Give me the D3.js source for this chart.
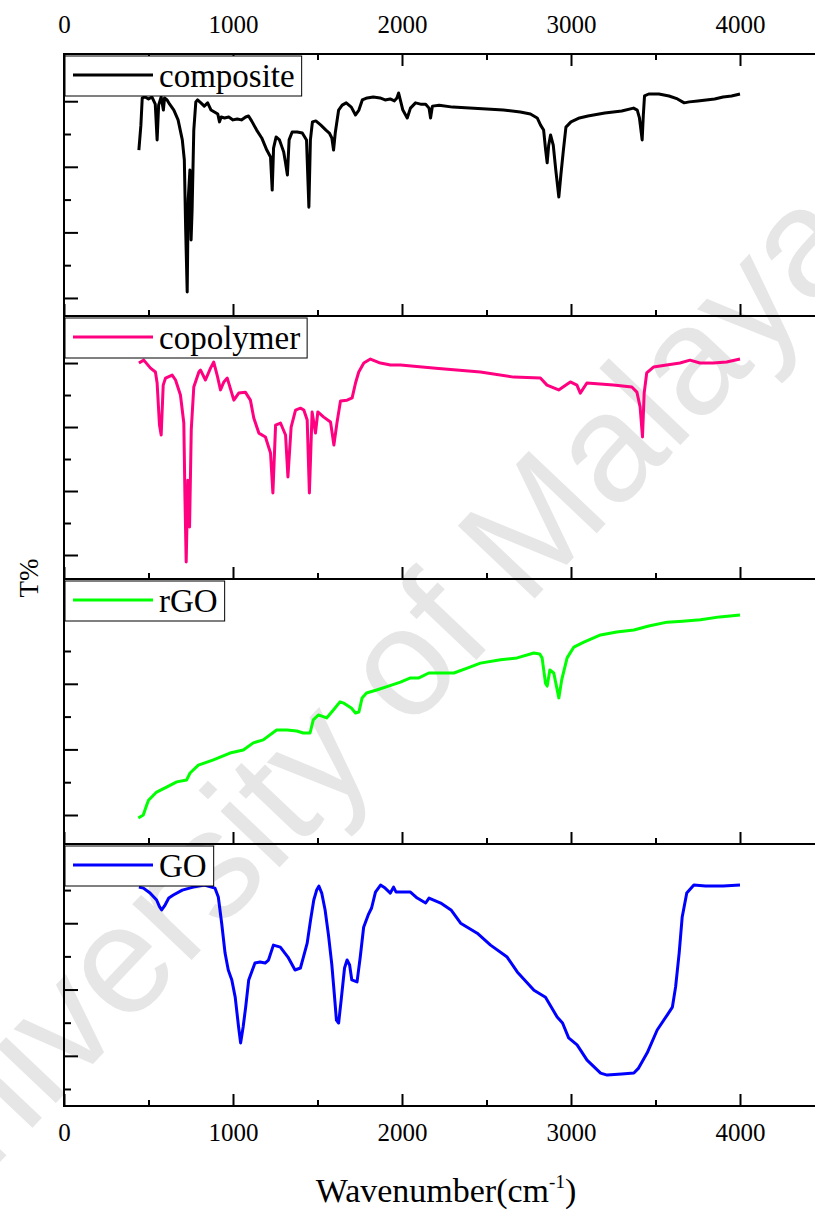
<!DOCTYPE html>
<html>
<head>
<meta charset="utf-8">
<script src="https://cdn.jsdelivr.net/npm/d3@7"></script>
<style>
  html, body { margin: 0; padding: 0; background: #ffffff; }
  svg { display: block; }
</style>
</head>
<body>
<div id="chart"></div>
<script>
// FTIR spectra, stacked panels: wavenumber (cm-1) vs transmittance (T%, arbitrary offset per panel)
const seriesNames = ["composite", "copolymer", "rGO", "GO"];
const seriesColors = ["#000000", "#ff0080", "#00ff00", "#0000ff"];
const xTickLabels = [0, 1000, 2000, 3000, 4000];
const xMinorTicks = [500, 1500, 2500, 3500, 4500];

// [wavenumber, T%]
const compositeSpectrum = [
  [443,55.1],[455,62.7],[463,71.0],[480,71.3],[500,70.7],[520,71.3],[540,69.1],[551,58.2],[560,68.8],[575,71.3],
  [588,67.3],[595,71.0],[610,70.4],[625,69.1],[650,67.3],[675,64.3],[700,58.2],[712,52.1],[720,30.7],[729,11.8],
  [735,39.9],[745,49.0],[752,27.7],[758,36.8],[768,61.2],[780,69.8],[790,70.4],[810,69.5],[830,68.5],[850,69.5],
  [870,67.3],[890,66.7],[910,66.1],[920,63.7],[930,65.2],[950,64.9],[975,65.2],[1000,64.3],[1025,64.6],[1050,64.3],
  [1075,65.2],[1092,65.5],[1110,64.0],[1140,61.2],[1170,58.8],[1200,55.1],[1222,53.0],[1232,42.9],[1240,55.7],
  [1255,59.1],[1275,58.2],[1290,56.0],[1300,54.5],[1310,51.5],[1322,47.5],[1332,58.2],[1350,60.6],[1380,60.6],
  [1410,60.3],[1435,58.2],[1449,37.7],[1458,58.2],[1470,63.7],[1490,64.0],[1520,62.7],[1550,61.2],[1570,60.3],
  [1585,58.8],[1595,55.1],[1605,60.3],[1625,67.3],[1646,68.8],[1670,69.5],[1700,68.2],[1725,65.8],[1745,67.3],
  [1765,70.4],[1794,71.0],[1830,71.3],[1870,71.0],[1900,70.4],[1930,70.7],[1955,70.1],[1970,71.0],[1980,72.5],
  [1990,70.4],[2005,67.3],[2031,64.9],[2050,67.9],[2080,69.5],[2110,69.1],[2140,69.1],[2160,67.9],[2169,64.9],
  [2180,68.5],[2220,68.8],[2300,68.2],[2400,67.9],[2500,67.6],[2600,67.3],[2700,66.7],[2760,66.1],[2800,64.9],
  [2820,62.7],[2838,61.2],[2850,55.1],[2859,51.2],[2868,56.6],[2879,59.7],[2895,56.6],[2910,49.0],[2928,40.8],
  [2940,47.5],[2955,55.1],[2970,62.1],[3000,63.7],[3050,64.9],[3100,65.5],[3200,66.4],[3300,67.0],[3370,67.9],
  [3392,67.3],[3405,64.9],[3421,58.2],[3428,65.8],[3435,71.6],[3460,72.2],[3520,72.2],[3580,71.6],[3630,70.7],
  [3670,69.5],[3700,69.8],[3750,70.1],[3800,70.4],[3850,70.7],[3900,71.3],[3950,71.6],[4000,72.2]
];

const copolymerSpectrum = [
  [443,70.0],[472,70.9],[512,68.4],[541,67.2],[551,63.75],[565,50.6],[575,47.5],[587,63.1],[601,65.3],[640,66.25],
  [660,64.7],[689,60.0],[709,51.25],[716,27.2],[723,7.8],[733,33.4],[743,18.75],[753,49.1],[768,62.5],[798,67.2],
  [808,67.8],[837,64.7],[867,68.4],[886,70.3],[906,66.25],[926,61.6],[946,64.1],[966,65.3],[1005,58.4],[1034,60.6],
  [1073,60.9],[1103,58.4],[1123,52.8],[1153,48.1],[1192,46.9],[1222,41.9],[1236,29.4],[1252,50.6],[1281,51.25],
  [1311,47.5],[1325,34.4],[1344,50.0],[1370,55.3],[1399,55.9],[1419,55.3],[1439,52.2],[1452,29.4],[1468,54.7],
  [1488,48.1],[1502,54.7],[1537,53.1],[1577,51.6],[1597,44.4],[1616,51.6],[1636,58.1],[1675,58.4],[1705,59.1],
  [1725,63.75],[1744,67.2],[1774,70.0],[1813,71.25],[1872,70.0],[1932,69.4],[1991,69.4],[2200,68.4],[2464,67.2],
  [2661,65.6],[2819,65.3],[2858,63.1],[2927,61.6],[2996,64.1],[3035,63.1],[3055,60.6],[3094,63.75],[3251,63.1],
  [3360,62.5],[3390,60.9],[3409,56.25],[3423,46.9],[3433,60.6],[3448,66.9],[3488,68.75],[3566,69.4],[3645,70.0],
  [3704,70.9],[3763,70.0],[3842,70.0],[3921,70.3],[4000,71.25]
];

const rGOSpectrum = [
  [440,9.1],[469,10.0],[489,13.0],[500,14.5],[519,15.5],[548,17.0],[607,18.5],[667,20.1],[726,20.7],[746,22.8],
  [795,25.2],[884,26.8],[982,28.9],[1061,29.8],[1120,32.0],[1179,32.9],[1258,35.9],[1320,35.9],[1377,35.6],
  [1416,35.0],[1456,35.0],[1475,39.0],[1505,40.5],[1554,39.6],[1594,42.0],[1633,44.5],[1656,44.1],[1700,42.6],
  [1725,41.1],[1745,41.4],[1764,45.7],[1790,47.2],[1850,48.1],[1920,49.3],[1991,50.5],[2050,51.8],[2100,51.8],
  [2159,53.3],[2307,53.3],[2386,54.8],[2464,56.3],[2583,57.3],[2681,57.9],[2780,59.4],[2815,59.1],[2829,57.9],
  [2849,50.2],[2859,49.3],[2875,54.2],[2898,53.3],[2928,45.7],[2945,51.2],[2977,57.9],[3017,61.2],[3076,62.7],
  [3175,64.9],[3270,65.8],[3372,66.4],[3460,67.6],[3569,68.8],[3660,69.1],[3766,69.5],[3880,70.4],[4000,71.0]
];

const GOSpectrum = [
  [443,70.9],[470,70.6],[509,69.1],[548,67.0],[565,65.0],[578,64.0],[595,65.2],[620,67.6],[647,68.5],[700,70.0],
  [765,70.9],[830,71.5],[893,70.6],[913,67.9],[933,60.0],[953,51.0],[972,45.9],[993,42.9],[1013,37.7],[1033,28.7],
  [1045,23.9],[1060,28.7],[1075,34.7],[1093,42.9],[1130,48.0],[1160,48.3],[1190,48.0],[1210,48.9],[1239,53.4],
  [1280,52.8],[1325,49.8],[1367,45.9],[1399,46.5],[1415,49.5],[1439,54.0],[1459,61.0],[1478,67.0],[1495,70.0],
  [1508,71.2],[1525,69.1],[1545,64.0],[1565,56.4],[1585,47.4],[1600,38.3],[1612,30.8],[1625,29.9],[1640,36.8],
  [1660,46.5],[1675,48.9],[1690,47.4],[1703,42.9],[1734,42.3],[1753,49.8],[1773,58.8],[1800,62.5],[1820,64.6],
  [1843,69.4],[1873,71.5],[1900,70.6],[1931,69.1],[1950,70.9],[1965,69.4],[2050,69.4],[2090,67.6],[2140,66.1],
  [2160,67.6],[2229,66.1],[2290,64.0],[2347,60.0],[2445,57.0],[2524,53.4],[2622,49.8],[2682,45.3],[2781,39.8],
  [2849,37.7],[2918,31.7],[2950,29.9],[2986,25.4],[3036,23.3],[3095,18.7],[3175,14.8],[3214,14.2],[3300,14.5],
  [3372,14.8],[3400,16.3],[3451,20.9],[3510,27.8],[3569,32.3],[3600,34.7],[3619,40.8],[3640,51.0],[3658,61.9],
  [3685,69.1],[3727,71.5],[3796,71.2],[3900,71.2],[4000,71.5]
];

const spectra = [compositeSpectrum, copolymerSpectrum, rGOSpectrum, GOSpectrum];

// ---- layout ----
const width = 815, height = 1210;
const serif = "'Liberation Serif', 'Times New Roman', serif";

const panelLayout = [
  { top: 54,  bottom: 316,  domain: [4.5, 84.4],   ticks: [10,20,30,40,50,60,70], major: [10,30,50,70] },
  { top: 316, bottom: 579,  domain: [2.5, 84.7],   ticks: [10,20,30,40,50,60,70], major: [10,30,50,70] },
  { top: 579, bottom: 844,  domain: [1.16, 81.95], ticks: [10,20,30,40,50,60],    major: [10,30,50] },
  { top: 844, bottom: 1106, domain: [4.87, 83.9],  ticks: [10,20,30,40,50,60,70], major: [20,40,60] }
];

const svg = d3.select("#chart").append("svg")
  .attr("width", width).attr("height", height)
  .attr("viewBox", `0 0 ${width} ${height}`);

svg.append("rect").attr("width", width).attr("height", height).attr("fill", "#ffffff");

// institutional watermark behind the plot
svg.append("text")
  .attr("transform", "translate(352,714) rotate(-46.5)")
  .attr("text-anchor", "middle")
  .attr("dominant-baseline", "central")
  .attr("font-family", "'Liberation Sans', Arial, sans-serif")
  .attr("font-size", 154)
  .attr("fill", "#e6e6e6")
  .text("University of Malaya");

const x = d3.scaleLinear().domain([0, 4500]).range([64, 64 + 4500 * 0.169]);

const line = d3.line().x(d => x(d[0]));

panelLayout.forEach((p, i) => {
  const y = d3.scaleLinear().domain(p.domain).range([p.bottom, p.top]);
  const g = svg.append("g");

  // spectrum
  g.append("path")
    .datum(spectra[i])
    .attr("fill", "none")
    .attr("stroke", seriesColors[i])
    .attr("stroke-width", 3)
    .attr("stroke-linejoin", "round")
    .attr("d", line.y(d => y(d[1])));

  // left axis: inward ticks, no labels
  const minor = p.ticks.filter(t => !p.major.includes(t));
  const yMajor = g.append("g").attr("transform", `translate(${x(0)},0)`)
    .call(d3.axisLeft(y).tickValues(p.major).tickSize(-14).tickFormat(""));
  const yMinor = g.append("g").attr("transform", `translate(${x(0)},0)`)
    .call(d3.axisLeft(y).tickValues(minor).tickSize(-7).tickFormat(""));

  // bottom axis of each panel: inward ticks
  const isLast = i === panelLayout.length - 1;
  const xb = g.append("g").attr("transform", `translate(0,${p.bottom})`)
    .call(d3.axisBottom(x).tickValues(xTickLabels).tickSize(-12).tickPadding(17)
      .tickFormat(isLast ? d3.format("d") : ""));
  const xbm = g.append("g").attr("transform", `translate(0,${p.bottom})`)
    .call(d3.axisBottom(x).tickValues(xMinorTicks).tickSize(-6).tickFormat(""));

  const axes = [yMajor, yMinor, xb, xbm];

  if (i === 0) {
    const xt = g.append("g").attr("transform", `translate(0,${p.top})`)
      .call(d3.axisTop(x).tickValues(xTickLabels).tickSize(-12).tickPadding(21).tickFormat(d3.format("d")));
    const xtm = g.append("g").attr("transform", `translate(0,${p.top})`)
      .call(d3.axisTop(x).tickValues(xMinorTicks).tickSize(-6).tickFormat(""));
    axes.push(xt, xtm);
  }

  axes.forEach(a => {
    a.select(".domain").remove();
    a.selectAll(".tick line").attr("stroke", "#000").attr("stroke-width", 2);
    a.selectAll(".tick text")
      .attr("font-family", serif).attr("font-size", 25).attr("fill", "#000");
  });

  // panel frame
  g.append("rect")
    .attr("x", x(0)).attr("y", p.top)
    .attr("width", x(4500) - x(0)).attr("height", p.bottom - p.top)
    .attr("fill", "none").attr("stroke", "#000").attr("stroke-width", 2);

  // legend
  const lg = g.append("g").attr("transform", `translate(${x(0) + 1},${p.top + 2})`);
  const box = lg.append("rect").attr("x", 0).attr("y", 0).attr("height", 40)
    .attr("fill", "#ffffff").attr("stroke", "#000").attr("stroke-width", 1);
  lg.append("line")
    .attr("x1", 8).attr("x2", 88).attr("y1", 19).attr("y2", 19)
    .attr("stroke", seriesColors[i]).attr("stroke-width", 3);
  const lt = lg.append("text")
    .attr("x", 94).attr("y", 31)
    .attr("font-family", serif).attr("font-size", 33).attr("fill", "#000")
    .text(seriesNames[i]);
  const tw = lt.node().getComputedTextLength();
  box.attr("width", 94 + tw + 7);
});

// axis titles
const xt = svg.append("text")
  .attr("x", 446).attr("y", 1202)
  .attr("text-anchor", "middle")
  .attr("font-family", serif).attr("font-size", 34).attr("fill", "#000");
xt.append("tspan").text("Wavenumber(cm");
xt.append("tspan").attr("font-size", 19).attr("dy", -14).text("-1");
xt.append("tspan").attr("dy", 14).text(")");

svg.append("text")
  .attr("transform", "translate(38,578) rotate(-90)")
  .attr("text-anchor", "middle")
  .attr("font-family", serif).attr("font-size", 27).attr("fill", "#000")
  .text("T%");
</script>
</body>
</html>
